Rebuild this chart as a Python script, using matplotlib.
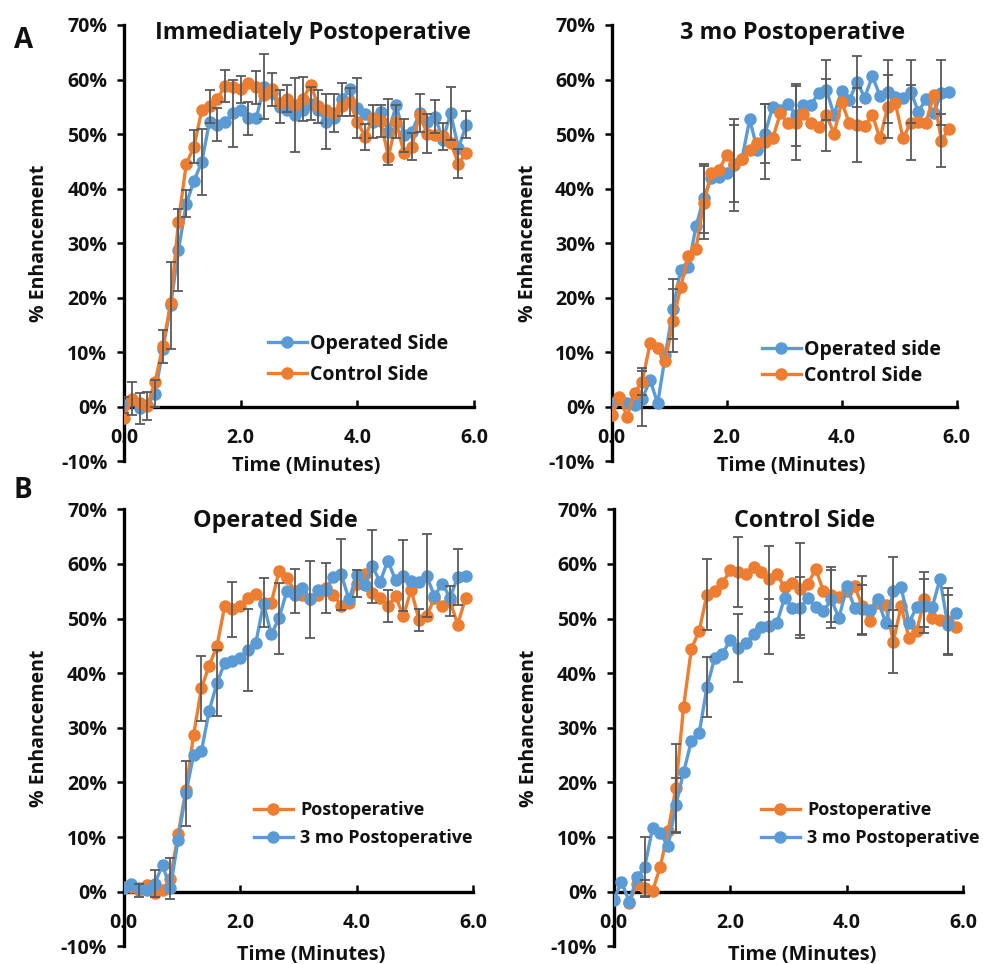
import numpy as np
import matplotlib
matplotlib.use("Agg")
import matplotlib.pyplot as plt
from matplotlib.ticker import FuncFormatter

# ---------------- data (percent enhancement) ----------------
# sampling: one frame every 8 s, 45 frames
n_frames = 45
time_min = np.arange(n_frames) * (8.0 / 60.0)

# Immediately postoperative
postop_operated = [0.3, 1.2, -0.3, 0.3, 2.4, 10.5, 18.6, 28.7, 37.2, 41.4, 44.9, 52.3, 51.7, 52.3, 53.8,
                   54.5, 52.9, 52.9, 58.7, 57.5, 55.0, 54.4, 53.5, 54.4, 55.6, 54.4, 52.3, 52.9, 56.4, 58.2,
                   54.7, 53.7, 52.3, 54.1, 50.4, 55.3, 49.8, 50.4, 53.8, 52.3, 53.2, 48.9, 53.8, 47.4, 51.7]
postop_control = [-2.0, 1.5, 0.7, 0.1, 4.6, 11.1, 19.0, 33.9, 44.5, 47.7, 54.4, 55.1, 56.5, 58.8, 58.6,
                  58.2, 59.4, 58.6, 57.2, 58.2, 55.7, 56.5, 55.4, 56.4, 59.0, 55.1, 54.4, 53.9, 55.1, 55.9,
                  52.3, 49.5, 52.9, 52.4, 45.8, 52.3, 46.5, 47.7, 53.5, 50.1, 49.8, 49.6, 48.4, 44.6, 46.5]
# 3 months postoperative
mo3_operated = [0.7, 1.5, 0.6, 0.3, 1.5, 4.9, 0.6, 9.5, 18.0, 25.1, 25.7, 33.1, 38.2, 41.9, 42.2,
                42.8, 44.3, 45.5, 52.7, 47.1, 50.1, 55.0, 54.4, 55.6, 53.5, 55.3, 55.3, 57.6, 58.1, 53.5,
                57.9, 56.2, 59.6, 56.7, 60.6, 57.0, 57.8, 56.8, 56.7, 57.8, 54.1, 56.4, 53.8, 57.6, 57.8]
mo3_control = [-1.5, 1.8, -1.8, 2.6, 4.6, 11.6, 10.7, 8.3, 15.8, 21.9, 27.6, 29.0, 37.4, 42.8, 43.5,
               46.1, 44.6, 45.5, 47.1, 48.4, 48.6, 49.2, 53.8, 52.0, 52.0, 53.7, 52.1, 51.3, 53.5, 50.1,
               55.9, 52.0, 51.7, 51.5, 53.5, 49.2, 55.0, 55.7, 49.2, 52.1, 52.3, 52.1, 57.2, 48.8, 51.0]

# In panel B the postoperative curves are aligned two frames later (first frames, then truncated)
postop_operated_lead = [0.9, 0.9]
postop_control_lead = [np.nan, np.nan]
postop_operated_B = postop_operated_lead + postop_operated[:-2]
postop_control_B = postop_control_lead + postop_control[:-2]

# error-bar half widths {frame index: half width}
err_A1_operated = {0: 1.5, 2: 2.8, 4: 2.5, 6: 8.0, 7: 7.5, 8: 2.5, 10: 6.0, 12: 3.0, 14: 6.2, 16: 3.0,
                   18: 6.0, 20: 3.0, 22: 6.7, 24: 3.0, 26: 5.0, 28: 3.0, 30: 5.5, 32: 3.0, 34: 6.0,
                   36: 3.0, 38: 3.5, 40: 3.0, 42: 4.9, 44: 2.5}
err_A1_control = {1: 3.0, 3: 2.6, 5: 3.0, 9: 3.0, 11: 3.0, 13: 2.9, 15: 2.5, 17: 3.0, 19: 3.0, 21: 2.5,
                  23: 4.0, 25: 3.0, 27: 3.5, 29: 2.5, 31: 2.4, 33: 3.0, 35: 3.0, 37: 2.5, 39: 3.5,
                  41: 2.5, 43: 2.7}
err_A2_operated = {4: 5.0, 8: 5.5, 12: 6.4, 16: 8.4, 20: 5.4, 24: 5.6, 28: 5.5, 32: 4.7, 36: 5.8,
                   39: 5.8, 43: 6.0}
err_A2_control = {4: 2.5, 8: 5.7, 12: 6.7, 16: 7.0, 20: 6.9, 24: 6.8, 28: 6.6, 32: 6.8, 36: 5.8,
                  39: 6.9, 43: 4.8}
err_B1_postop = {2: 1.2, 6: 3.7, 10: 6.0, 14: 5.0, 18: 4.5, 22: 4.0, 26: 4.5, 30: 2.5, 34: 3.0,
                 38: 2.0, 42: 2.7}
err_B1_3mo = {4: 2.5, 8: 6.0, 12: 6.0, 16: 7.5, 20: 6.5, 24: 7.0, 28: 6.5, 32: 6.7, 36: 6.5,
              39: 7.6, 43: 5.2}
err_B2_postop = {4: 1.5, 8: 8.0, 12: 6.5, 16: 6.4, 20: 6.0, 24: 8.5, 28: 5.0, 32: 5.4, 36: 5.8,
                 40: 5.0, 43: 6.0}
err_B2_3mo = {4: 5.5, 8: 5.0, 12: 5.5, 16: 6.2, 20: 5.0, 24: 5.6, 28: 5.3, 32: 4.5, 36: 6.3,
              40: 5.0, 43: 5.5}

x_ticks = [0, 2, 4, 6]
y_ticks = [-10, 0, 10, 20, 30, 40, 50, 60, 70]

BLUE = "#5B9BD5"
ORANGE = "#ED7D31"
ERR = "#595959"
FONT = "Open Sans"
TXT = "#111111"

W, H = 983, 964
fig = plt.figure(figsize=(W / 100, H / 100), dpi=100)


def px_axes(x0, x6, y70, y0):
    # axes given by pixel position of x=0, x=6, y=70%, y=0%
    per10 = (y0 - y70) / 7.0
    ym10 = y0 + per10
    return fig.add_axes([x0 / W, 1 - ym10 / H, (x6 - x0) / W, (ym10 - y70) / H])


def style(ax, title, title_xy, xlab_xy):
    ax.set_xlim(0, 6)
    ax.set_ylim(-10, 70)
    for s in ["top", "right"]:
        ax.spines[s].set_visible(False)
    ax.spines["left"].set_position(("data", 0))
    ax.spines["bottom"].set_position(("data", 0))
    for s in ["left", "bottom"]:
        ax.spines[s].set_linewidth(2.4)
        ax.spines[s].set_color("black")
    ax.set_xticks(x_ticks)
    ax.set_yticks(y_ticks)
    ax.xaxis.set_major_formatter(FuncFormatter(lambda v, p: f"{v:.1f}"))
    ax.yaxis.set_major_formatter(FuncFormatter(lambda v, p: f"{v:.0f}%"))
    ax.tick_params(axis="x", direction="in", length=5, width=1.8, pad=15)
    ax.tick_params(axis="y", direction="out", length=5, width=1.8, pad=7)
    for lab in ax.get_xticklabels() + ax.get_yticklabels():
        lab.set_fontfamily(FONT)
        lab.set_fontweight("bold")
        lab.set_fontsize(14)
        lab.set_color(TXT)
    ax.set_xlabel("Time (Minutes)", fontfamily=FONT, fontweight="bold", fontsize=14.3, color=TXT)
    ax.set_ylabel("% Enhancement", fontfamily=FONT, fontweight="bold", fontsize=14, color=TXT)
    ax.xaxis.set_label_coords(*xlab_xy)
    ax.yaxis.set_label_coords(-0.215, 0.50)
    fig.text(title_xy[0] / W, 1 - title_xy[1] / H, title, ha="center", va="center",
             fontfamily=FONT, fontweight="bold", fontsize=16.8, color=TXT)


def series(ax, y, color, label, errs):
    y = np.asarray(y, dtype=float)
    ax.plot(time_min, y, "-o", color=color, lw=2.4, ms=8, label=label, zorder=3)
    idx = np.array(sorted(errs.keys()))
    e = np.array([errs[i] for i in idx])
    ax.errorbar(time_min[idx], y[idx], yerr=e, fmt="none", ecolor=ERR, elinewidth=1.3,
                capsize=3.5, capthick=1.3, zorder=4)


def legend(ax, handles_order, x, y, spacing, size, hpad):
    h, l = ax.get_legend_handles_labels()
    order = [l.index(k) for k in handles_order]
    leg = ax.legend([h[i] for i in order], [l[i] for i in order], loc="upper left",
                    bbox_to_anchor=(x / W, 1 - y / H), bbox_transform=fig.transFigure,
                    frameon=False, handlelength=2.0 * 14 / size, handletextpad=hpad,
                    labelspacing=spacing, borderpad=0, borderaxespad=0,
                    prop={"family": FONT, "weight": "bold", "size": size})
    for t in leg.get_texts():
        t.set_color(TXT)
    return leg


# Panel A left
ax1 = px_axes(124, 474, 25, 406.7)
series(ax1, postop_operated, BLUE, "Operated Side", err_A1_operated)
series(ax1, postop_control, ORANGE, "Control Side", err_A1_control)
style(ax1, "Immediately Postoperative", (313, 33), (0.52, 0.012))
legend(ax1, ["Operated Side", "Control Side"], 268, 334, 0.55, 14, 0.15)

# Panel A right
ax2 = px_axes(611.7, 956.7, 25, 406.7)
series(ax2, mo3_operated, BLUE, "Operated side", err_A2_operated)
series(ax2, mo3_control, ORANGE, "Control Side", err_A2_control)
style(ax2, "3 mo Postoperative", (793, 33), (0.52, 0.012))
legend(ax2, ["Operated side", "Control Side"], 762, 340, 0.3, 14, 0.15)

# Panel B left
ax3 = px_axes(123.7, 473.3, 509.3, 891.7)
series(ax3, postop_operated_B, ORANGE, "Postoperative", err_B1_postop)
series(ax3, mo3_operated, BLUE, "3 mo Postoperative", err_B1_3mo)
style(ax3, "Operated Side", (275, 521), (0.536, 0.004))
legend(ax3, ["Postoperative", "3 mo Postoperative"], 254, 801, 0.55, 13, 0.4)

# Panel B right
ax4 = px_axes(613.7, 963.3, 509.3, 891.7)
series(ax4, postop_control_B, ORANGE, "Postoperative", err_B2_postop)
series(ax4, mo3_control, BLUE, "3 mo Postoperative", err_B2_3mo)
style(ax4, "Control Side", (805, 521), (0.54, 0.004))
legend(ax4, ["Postoperative", "3 mo Postoperative"], 761, 801, 0.55, 13, 0.4)

fig.text(24 / W, 1 - 40 / H, "A", ha="center", va="center", fontfamily=FONT,
         fontweight="bold", fontsize=20, color=TXT)
fig.text(23 / W, 1 - 491 / H, "B", ha="center", va="center", fontfamily=FONT,
         fontweight="bold", fontsize=20, color=TXT)

fig.savefig("out.png", dpi=100)
